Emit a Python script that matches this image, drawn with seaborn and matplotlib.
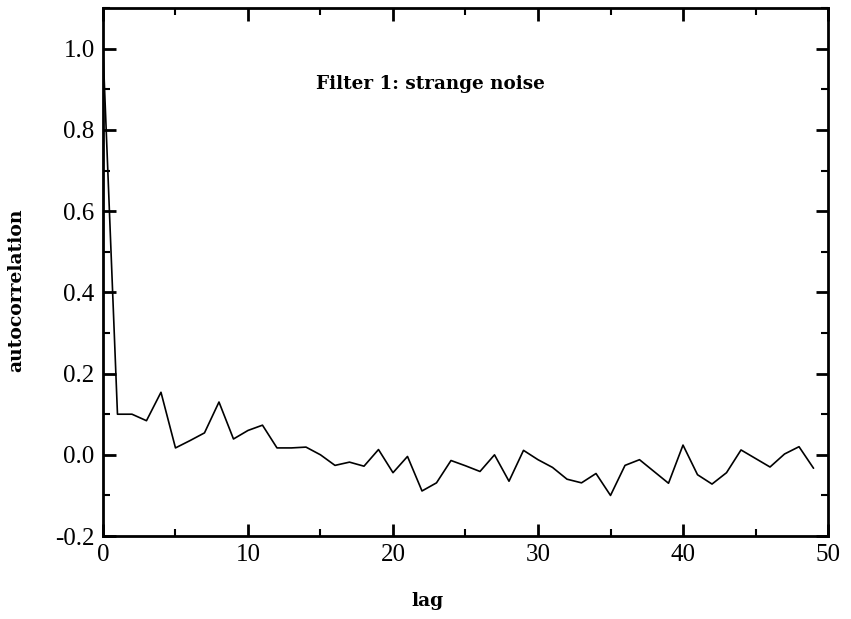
import matplotlib
matplotlib.use("Agg")
import matplotlib.pyplot as plt
import seaborn as sns
import pandas as pd
import numpy as np
from matplotlib.ticker import MultipleLocator

lags = list(range(50))
autocorr = [1.0, 0.10, 0.10, 0.084, 0.154, 0.017, 0.035, 0.054, 0.130, 0.039,
            0.060, 0.073, 0.017, 0.017, 0.019, 0.0, -0.026, -0.018, -0.028, 0.013,
            -0.044, -0.004, -0.089, -0.069, -0.014, -0.027, -0.041, 0.0, -0.065, 0.011,
            -0.012, -0.031, -0.060, -0.069, -0.046, -0.100, -0.026, -0.012, -0.041, -0.070,
            0.024, -0.049, -0.072, -0.044, 0.012, -0.009, -0.030, 0.002, 0.020, -0.033]
title_text = "Filter 1: strange noise"
xlabel_text = "lag"
ylabel_text = "autocorrelation"

sns.set_style("ticks")
plt.rcParams['font.family'] = ['Liberation Serif', 'DejaVu Serif']
plt.rcParams['text.color'] = 'black'

df = pd.DataFrame({"lag": lags, "autocorrelation": autocorr})

fig = plt.figure(figsize=(8.51, 6.19), dpi=100)
ax = fig.add_axes([0.121, 0.134, 0.852, 0.853])
sns.lineplot(data=df, x="lag", y="autocorrelation", ax=ax, color="black", linewidth=1.2)

ax.set_xlim(0, 50)
ax.set_ylim(-0.2, 1.1)
ax.xaxis.set_major_locator(MultipleLocator(10))
ax.xaxis.set_minor_locator(MultipleLocator(5))
ax.yaxis.set_minor_locator(MultipleLocator(0.1))
yt = np.arange(-0.2, 1.01, 0.2)
ax.set_yticks(yt)
ax.set_yticklabels([f"{v:.1f}" for v in yt])
ax.tick_params(which="both", direction="in", top=True, right=True,
               color="black", labelcolor="black")
ax.tick_params(which="major", length=9, width=2, labelsize=18, pad=6)
ax.tick_params(which="minor", length=5, width=1.5)
for s in ax.spines.values():
    s.set_linewidth(2)
    s.set_color("black")

ax.set_xlabel("")
ax.set_ylabel("")
bold_serif = ['DejaVu Serif']
fig.text(427 / 851, 1 - 601 / 619, xlabel_text, ha="center", va="center",
         fontsize=13.5, fontweight="bold", family=bold_serif, color="black")
fig.text(16 / 851, 1 - 290 / 619, ylabel_text, ha="center", va="center",
         rotation=90, fontsize=13.5, fontweight="bold", family=bold_serif, color="black")
ax.text(0.452, 0.856, title_text, transform=ax.transAxes, ha="center", va="center",
        fontsize=13.2, fontweight="bold", family=bold_serif, color="black")

fig.savefig("out.png", dpi=100)
